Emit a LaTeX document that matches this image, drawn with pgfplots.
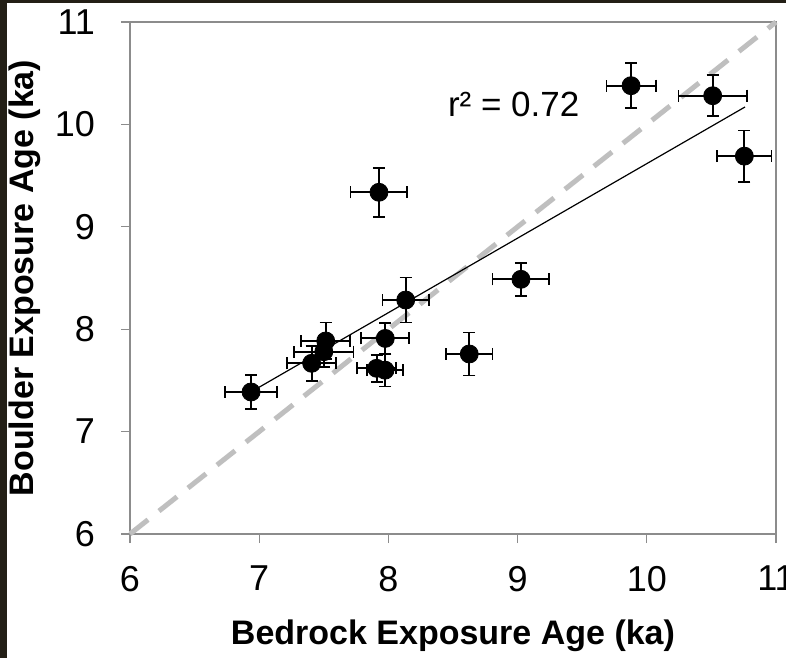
\documentclass[border=0pt]{standalone}
\usepackage{pgfplots}
\pgfplotsset{compat=1.18}
\usepackage{fontspec}
\setmainfont{Liberation Sans}
\definecolor{frame}{HTML}{231F16}
\definecolor{axgray}{HTML}{8C8C8C}
\definecolor{dashgray}{HTML}{BFBFBF}
\pgfplotstableread{
x      y      ex    ey
6.937  7.387  0.20  0.17
7.406  7.667  0.19  0.17
7.500  7.780  0.23  0.15
7.515  7.885  0.19  0.18
7.909  7.618  0.15  0.13
7.974  7.600  0.14  0.16
7.976  7.910  0.185 0.15
8.134  8.285  0.18  0.22
7.927  9.337  0.22  0.24
8.626  7.758  0.18  0.21
9.026  8.487  0.22  0.16
9.878  10.378 0.19  0.22
10.510 10.280 0.265 0.20
10.755 9.690  0.21  0.25
}\datatable
\begin{document}
\begin{tikzpicture}
\path[use as bounding box] (-65pt,-62pt) rectangle (328pt,267pt);
\clip (-65pt,-62pt) rectangle (328pt,267pt);
\fill[frame] (-65pt,-62pt) rectangle (328pt,267pt);
\fill[white] (-61.5pt,-62pt) rectangle (328pt,265.25pt);
\begin{axis}[
  scale only axis,
  width=323pt, height=256pt,
  xmin=6, xmax=11, ymin=6, ymax=11,
  xtick={6,...,11}, ytick={6,...,11},
  tick align=outside, xtick pos=left, ytick pos=left,
  major tick length=4.5pt,
  axis line style={axgray, line width=0.6pt},
  tick style={axgray, line width=0.6pt},
  /pgf/number format/assume math mode=true,
  ticklabel style={font=\fontsize{18}{20}\selectfont},
  xticklabel style={yshift=-8pt},
  yticklabel style={xshift=-9.5pt},
  xlabel={\bfseries Bedrock Exposure Age (ka)},
  ylabel={\bfseries Boulder Exposure Age (ka)},
  label style={font=\fontsize{17}{20}\selectfont},
  xlabel style={at={(axis description cs:0.5,-0.199)}, anchor=center},
  ylabel style={at={(axis description cs:-0.163,0.5)}, anchor=center, rotate=0},
  clip=false,
]
\addplot[dashgray, line width=2.5pt, dash pattern=on 11.5pt off 7pt] coordinates {(6,6) (11,11)};
\addplot[black, line width=0.6pt] coordinates {(6.94,7.39) (10.76,10.17)};
\addplot[only marks, mark=*, mark size=4.5pt, black,
  error bars/.cd, x dir=both, x explicit, y dir=both, y explicit,
  error bar style={line width=0.95pt, black},
  error mark options={rotate=90, line width=0.95pt, mark size=3pt, black}]
  table[x=x, y=y, x error=ex, y error=ey] {\datatable};
\node[font=\fontsize{17.5}{20}\selectfont] at (axis cs:8.97,10.19) {r² = 0.72};
\end{axis}
\end{tikzpicture}
\end{document}
